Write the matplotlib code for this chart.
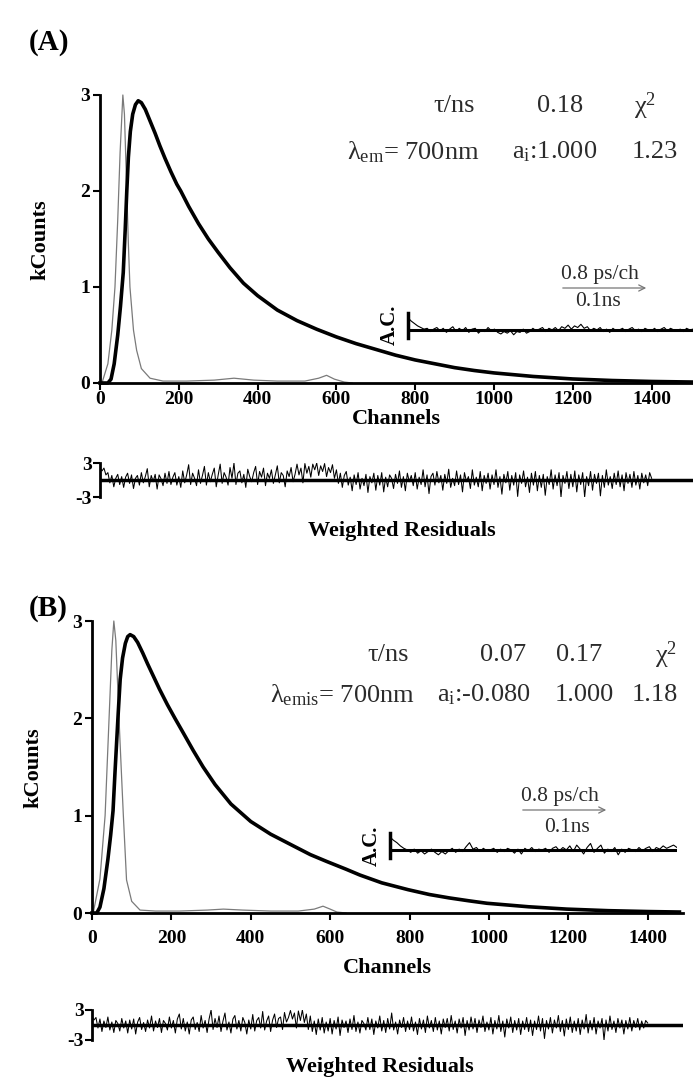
# 蛍光減衰曲線 (A), (B) の再現

import numpy as np
import matplotlib
matplotlib.use("Agg")
import matplotlib.pyplot as plt
from matplotlib.patches import FancyArrowPatch

plt.rcParams["font.family"] = ["Liberation Serif", "DejaVu Serif"]
plt.rcParams["mathtext.fontset"] = "custom"
plt.rcParams["mathtext.rm"] = "Liberation Serif"
plt.rcParams["mathtext.it"] = "Liberation Serif:italic"

W, H = 693, 1078
FILE_NAME = "out.png"
TXT = "#2b2b2b"
IRF_COLOR = "#7a7a7a"
RES_STEP = 5            # 残差の点間隔 (チャンネル)

# ---- (A) データ ----
irfA_ch = [0, 5, 20, 30, 38, 45, 51, 58, 62, 68, 72, 76, 85, 93, 105, 127, 160, 220, 290, 340, 390, 450, 520, 555, 575, 595, 620, 640]
irfA = [0, 0.0, 0.2, 0.55, 1.0, 1.7, 2.4, 3.0, 2.8, 2.0, 1.45, 1.0, 0.55, 0.34, 0.15, 0.05, 0.02, 0.02, 0.03, 0.05, 0.03, 0.02, 0.02, 0.05, 0.08, 0.04, 0.01, 0.0]
fitA_ch = [0, 20, 28, 36, 45, 52, 59, 64, 68, 72, 77, 83, 90, 97, 105, 115, 128, 140, 152, 165, 180, 195, 205, 225, 250, 275,
           300, 330, 364, 400, 450, 500, 550, 600, 650, 700, 750, 800, 850, 900, 950, 1000, 1100, 1200, 1300, 1400, 1505]
fitA = [0, 0, 0.04, 0.2, 0.5, 0.8, 1.15, 1.6, 2.0, 2.35, 2.62, 2.8, 2.9, 2.94, 2.92, 2.85, 2.72, 2.6, 2.47, 2.34, 2.2, 2.07, 2.0, 1.84, 1.66, 1.5,
        1.36, 1.2, 1.04, 0.91, 0.76, 0.65, 0.56, 0.48, 0.41, 0.35, 0.29, 0.24, 0.2, 0.16, 0.13, 0.105, 0.068, 0.042, 0.026, 0.016, 0.01]
resA = [2.2, 1.6, 2.1, 0.9, 1.3, -0.5, 0.8, -1.2, 0.3, 1.0, -0.8, 0.6, -1.3, 0.5, 1.2, -0.6, 0.9, -1.5, 0.3, 0.8,
        -0.9, 1.3, -0.5, 0.6, 2.0, -1.2, 0.8, -0.3, 1.0, -1.6, 0.9, 0.2, -1.0, 1.2, -0.6, 1.5, -0.8, 0.5, 1.3, -0.9,
        0.6, -1.3, 1.6, -0.5, 0.9, 2.7, -0.8, 1.2, 0.3, -1.0, 1.8, -0.6, 0.8, 2.4, -0.9, 1.3, -0.3, 1.0, 2.1, -1.2,
        0.9, 2.8, -0.6, 1.3, 0.5, -0.9, 2.2, 0.3, 3.0, -0.8, 1.2, 1.6, -0.5, 1.0, -1.3, 1.9, 0.6, -0.3, 1.3, 2.4,
        -0.8, 1.5, 0.5, 2.1, -1.0, 1.2, 0.3, 1.8, -0.6, 0.9, 2.5, -0.5, 1.3, 0.8, -1.2, 1.6, 0.6, 2.2, -0.3, 1.0,
        2.8, 0.9, 2.1, -0.5, 2.9, 1.2, 2.4, 0.5, 2.8, 1.8, 3.0, 0.8, 2.5, 1.5, 2.9, 0.6, 2.2, 1.3, 2.7, 0.3,
        1.8, -0.6, 1.2, -1.3, 0.8, 1.5, -0.9, 0.5, -1.9, 0.9, -0.8, 1.3, -1.6, 0.3, -1.0, 1.0, -2.2, 0.6, -0.5, 1.2,
        -1.8, 0.8, -0.9, 1.3, -2.1, 0.5, -1.2, 0.9, 0.3, -1.5, 1.0, -0.6, 1.6, -1.3, 0.6, -1.9, 1.2, -0.3, 0.8, -1.0,
        1.3, -1.6, 0.5, -0.8, 1.8, -1.2, 0.9, -2.4, 0.6, 1.2, -0.9, 1.5, -0.5, 0.8, -1.8, 1.0, -0.6, 1.9, -1.3, 0.3,
        -1.0, 1.6, -0.8, 0.9, -2.1, 1.3, -0.3, 0.6, -1.5, 1.8, -0.9, 0.5, -1.2, 1.5, -1.9, 0.8, -0.6, 1.2, -1.6, 0.9,
        -0.8, 1.8, -1.3, 0.6, -2.5, 1.0, -0.5, 1.5, -1.8, 0.8, -0.9, 1.3, -2.9, 0.9, -0.6, 1.6, -1.2, 0.5, -2.2, 1.2,
        -0.9, 1.5, -1.9, 0.8, -1.3, 1.0, -2.7, 0.6, -0.8, 1.8, -1.6, 0.9, -1.0, 1.3, -3.0, 0.8, -0.6, 1.5, -1.5, 1.0,
        -1.2, 1.6, -2.1, 0.9, -0.8, 1.3, -3.0, 0.6, -1.0, 1.5, -1.8, 1.0, -0.6, 1.2, -2.8, 0.8, -1.3, 1.8, -0.9, 0.6,
        -1.5, 1.2, -0.8, 1.6, -1.2, 0.9, -1.9, 1.3, -0.6, 1.0, -1.3, 1.5, -0.9, 0.8, -1.6, 1.2, -0.5, 0.9, -1.0, 1.3,
        0.3]
acA = [1.5, 1.1, 0.8, 0.5, 0.3, 0.1, 0.2, -0.2, 0.1, 0.3, -0.1, 0.2, -0.3, 0.1, 0.4,
       -0.2, 0.2, -0.1, 0.3, -0.3, 0.1, 0.2, -0.4, 0.0, -0.2, 0.3, -0.1, 0.1, -0.3, -0.5,
       -0.2, -0.4, -0.1, -0.6, -0.2, -0.3, 0.1, -0.4, -0.2, 0.2, -0.1, 0.1, 0.3, -0.2, 0.2,
       0.0, 0.3, -0.1, 0.4, 0.2, 0.6, 0.1, 0.5, 0.3, 0.7, 0.2, 0.4, -0.1, 0.2, 0.0,
       0.3, -0.2, 0.1, -0.3, 0.2, -0.1, 0.0, 0.2, -0.2, 0.1, 0.3, -0.1, 0.1, -0.2, 0.2,
       0.0, -0.1, 0.2, -0.2, 0.1, 0.3, -0.1, 0.2, 0.0, -0.1, 0.1, -0.2, 0.2, 0.0, 0.1]

# ---- (B) データ ----
irfB_ch = [0, 3, 20, 33, 43, 50, 55, 60, 68, 74, 79, 87, 100, 121, 160, 220, 290, 331, 380, 450, 520, 560, 582, 600, 617, 640]
irfB = [0, 0.0, 0.35, 1.0, 2.0, 2.7, 3.0, 2.8, 2.0, 1.45, 1.0, 0.34, 0.12, 0.03, 0.02, 0.02, 0.03, 0.04, 0.03, 0.02, 0.02, 0.04, 0.07, 0.04, 0.01, 0.0]
fitB_ch = [0, 12, 20, 30, 40, 47, 53, 58, 62, 66, 71, 77, 84, 90, 96, 105, 115, 128, 140, 155, 170, 190, 209, 230, 255, 280,
           310, 350, 400, 450, 507, 550, 591, 640, 675, 730, 796, 850, 900, 950, 995, 1100, 1196, 1300, 1400, 1480]
fitB = [0, 0, 0.06, 0.25, 0.55, 0.8, 1.05, 1.45, 1.75, 2.05, 2.4, 2.62, 2.77, 2.84, 2.86, 2.84, 2.78, 2.67, 2.56, 2.43, 2.3, 2.14, 2.0, 1.85, 1.67, 1.5,
        1.32, 1.12, 0.94, 0.81, 0.69, 0.6, 0.53, 0.45, 0.39, 0.31, 0.24, 0.19, 0.155, 0.125, 0.10, 0.064, 0.04, 0.024, 0.015, 0.01]
resB = [1.8, 1.0, 1.5, -0.6, 1.2, -1.3, 0.8, -0.5, 1.6, -1.0, 0.6, -1.5, 0.9, 0.3, -1.2, 1.3, -0.6, 0.8, -1.6, 1.0,
        -0.8, 1.2, -1.8, 0.6, 1.5, -0.9, 0.5, -1.3, 1.0, -0.6, 1.8, -1.2, 0.8, -0.5, 1.3, -1.5, 0.9, 0.3, -1.0, 1.6,
        -0.6, 0.9, -1.6, 1.2, 2.2, -0.8, 1.3, -1.2, 0.6, -1.8, 1.0, 1.6, -0.9, 0.5, -1.3, 1.9, -0.6, 0.9, -1.5, 1.2,
        3.0, -0.9, 1.3, -0.5, 1.8, -1.3, 0.8, 2.4, -1.0, 0.6, -1.6, 1.2, 1.9, -0.8, 0.9, -1.2, 1.5, 0.5, -1.8, 1.0,
        -0.8, 2.1, -1.2, 0.9, 1.5, -0.6, 2.7, -1.0, 0.8, 1.8, -1.3, 1.0, 2.2, -0.5, 1.3, 1.6, -0.9, 2.5, 0.6, 1.5,
        2.9, 1.2, 2.4, -0.6, 2.8, 0.9, 3.0, 0.5, 2.2, -0.9, 1.8, -1.3, 0.8, -1.9, 1.2, -1.0, 1.5, -1.6, 0.6, -1.2,
        1.3, -1.8, 0.9, -0.8, 1.6, -2.1, 1.0, -0.5, 0.8, -1.5, 1.2, -0.9, 1.9, -1.3, 0.6, -1.6, 0.9, 0.3, -1.0, 1.5,
        -0.9, 1.2, -1.9, 0.8, -0.6, 1.8, -1.2, 0.9, -1.5, 1.3, -0.8, 2.4, -1.0, 0.6, -1.8, 1.0, -0.5, 1.5, -1.3, 0.8,
        -0.9, 1.6, -1.2, 0.6, -1.9, 1.3, -0.8, 1.0, -1.5, 1.8, -0.6, 0.9, -1.3, 1.5, -1.0, 0.8, -1.8, 1.2, -0.5, 1.3,
        -1.2, 1.9, -0.9, 0.8, -1.6, 1.2, -0.6, 1.5, -2.1, 0.9, -1.0, 1.6, -0.8, 1.3, -1.5, 1.0, -0.5, 1.8, -1.3, 0.6,
        -1.0, 1.5, -1.8, 0.9, -0.8, 1.9, -1.3, 0.8, -2.4, 1.2, -0.6, 1.6, -1.5, 0.9, -1.0, 1.3, -1.9, 0.8, -0.9, 1.5,
        -1.3, 1.0, -2.1, 0.8, -0.9, 1.8, -1.2, 1.3, -2.7, 0.9, -0.8, 1.5, -1.6, 1.0, -0.6, 1.9, -1.3, 0.9, -2.2, 1.2,
        -0.9, 1.6, -1.5, 0.8, -1.2, 1.3, -1.9, 1.0, -0.8, 2.1, -1.6, 0.9, -1.0, 1.5, -1.8, 0.8, -0.6, 1.3, -3.0, 1.0,
        -1.2, 1.8, -0.9, 0.8, -1.5, 1.3, -0.6, 1.0, -1.8, 0.9, -0.8, 1.5, -1.2, 0.9, -0.5, 1.3, -1.0, 0.8, -0.6, 0.9,
        0.4]
acB = [1.6, 1.2, 0.9, 0.5, 0.2, 0.0, -0.3, 0.1, -0.4, -0.1, -0.5, -0.2, 0.1, -0.3, -0.6,
       -0.2, -0.5, -0.1, 0.2, -0.3, 0.1, -0.2, 0.4, 0.9, 0.1, 0.3, -0.2, 0.2, -0.1, 0.0,
       0.2, -0.3, 0.1, -0.2, 0.2, 0.0, -0.4, 0.1, -0.5, 0.2, -0.1, 0.3, -0.2, 0.1, 0.0,
       0.2, -0.3, 0.2, 0.4, -0.1, 0.3, 0.0, 0.5, -0.2, 0.6, 0.1, -0.5, 0.3, 0.8, -0.3,
       0.2, 0.6, -0.4, 0.1, -0.2, 0.3, -0.6, 0.1, -0.3, 0.2, 0.0, -0.2, 0.3, -0.1, 0.2,
       0.4, -0.2, 0.3, 0.1, 0.5, 0.2, 0.4, 0.6, 0.3]

X_TICKS = [0, 200, 400, 600, 800, 1000, 1200, 1400]
Y_TICKS = [0, 1, 2, 3]
LABEL_FS = 16
TICK_FS = 14


def px_axes(fig, l, t, r, b):
    """ピクセル座標で軸を作る"""
    return fig.add_axes([l / W, 1 - b / H, (r - l) / W, (b - t) / H])


def fig_text(fig, x, y, s, **kw):
    fig.text(x / W, 1 - y / H, s, **kw)


def main_panel(fig, box, xmax, irf_ch, irf, fit_ch, fit, pad, labelpad):
    ax = px_axes(fig, *box)
    ax.plot(irf_ch, irf, color=IRF_COLOR, lw=0.9, clip_on=False)
    ax.plot(fit_ch, fit, color="black", lw=2.6, clip_on=False, solid_joinstyle="round")
    ax.set_xlim(0, xmax)
    ax.set_ylim(0, 3)
    for s in ["top", "right"]:
        ax.spines[s].set_visible(False)
    ax.spines["left"].set_linewidth(2)
    ax.spines["bottom"].set_linewidth(2)
    ax.spines["left"].set_bounds(0, 3)
    ax.set_xticks(X_TICKS)
    ax.set_yticks(Y_TICKS)
    ax.tick_params(direction="out", length=5, width=1.5, labelsize=TICK_FS, pad=2)
    ax.tick_params(axis="x", pad=pad)
    for lab in ax.get_xticklabels() + ax.get_yticklabels():
        lab.set_fontweight("bold")
    ax.set_xlabel("Channels", fontsize=LABEL_FS, fontweight="bold", labelpad=labelpad)
    return ax


def resid_panel(fig, box, xmax, res):
    ax = px_axes(fig, *box)
    ch = np.arange(len(res)) * RES_STEP
    ax.axhline(0, color="black", lw=2.5)
    ax.plot(ch, res, color="black", lw=0.75)
    ax.set_xlim(0, xmax)
    ax.set_ylim(-3, 3)
    for s in ["top", "right", "bottom"]:
        ax.spines[s].set_visible(False)
    ax.spines["left"].set_linewidth(2)
    ax.set_xticks([])
    ax.set_yticks([-3, 3])
    ax.set_yticklabels(["-3", "3"])
    ax.tick_params(direction="out", length=5, width=1.5, labelsize=TICK_FS, pad=1)
    for lab in ax.get_yticklabels():
        lab.set_fontweight("bold")
    return ax


def ac_panel(fig, box, ac):
    ax = px_axes(fig, *box)
    ax.axhline(0, color="black", lw=2.2)
    ax.plot(np.arange(len(ac)), ac, color="black", lw=0.8)
    ax.set_xlim(0, len(ac) - 1)
    ax.set_ylim(-1, 2.1)
    for s in ["top", "right", "bottom"]:
        ax.spines[s].set_visible(False)
    ax.spines["left"].set_linewidth(2.5)
    ax.set_xticks([])
    ax.set_yticks([])
    return ax


def scale_arrow(fig, x0, x1, y):
    fig.add_artist(FancyArrowPatch(
        (x0 / W, 1 - y / H), (x1 / W, 1 - y / H), transform=fig.transFigure,
        arrowstyle="->", mutation_scale=11, color="#777777", lw=0.9))


def main():
    fig = plt.figure(figsize=(W / 100, H / 100), dpi=100)
    fs = 19
    kw = dict(fontsize=fs, color=TXT, va="center")

    # ---- (A) ----
    fig_text(fig, 29, 43, "(A)", fontsize=21, fontweight="bold", va="center")
    main_panel(fig, (100, 95, 693, 383), 1505, irfA_ch, irfA, fitA_ch, fitA, 0.5, 1)
    fig_text(fig, 40, 240, "kCounts", fontsize=LABEL_FS, fontweight="bold",
             rotation=90, ha="center", va="center")
    resid_panel(fig, (100, 463, 693, 497), 1505, resA)
    fig_text(fig, 402, 531, "Weighted Residuals", fontsize=LABEL_FS, fontweight="bold",
             ha="center", va="center")
    ac_panel(fig, (408, 313, 693, 338), acA)
    fig_text(fig, 390, 325, "A.C.", fontsize=15, fontweight="bold", rotation=90,
             ha="center", va="center")
    fig_text(fig, 600, 274, "0.8 ps/ch", fontsize=15.5, color=TXT, ha="center", va="center")
    fig_text(fig, 598, 301, "0.1ns", fontsize=15.5, color=TXT, ha="center", va="center")
    scale_arrow(fig, 560, 649, 288)

    fig_text(fig, 454, 106, "τ/ns", ha="center", **kw)
    fig_text(fig, 560, 106, "0.18", ha="center", **kw)
    fig_text(fig, 645, 106, r"χ$^2$", ha="center", **kw)
    fig_text(fig, 347, 152, r"λ$_{\mathrm{em}}$= 700nm", **kw)
    fig_text(fig, 512, 152, r"a$_{\mathrm{i}}$:1.000", **kw)
    fig_text(fig, 632, 152, "1.23", **kw)

    # ---- (B) ----
    fig_text(fig, 29, 608, "(B)", fontsize=21, fontweight="bold", va="center")
    main_panel(fig, (92, 621, 683, 913), 1489, irfB_ch, irfB, fitB_ch, fitB, 7, 8)
    fig_text(fig, 33, 768, "kCounts", fontsize=LABEL_FS, fontweight="bold",
             rotation=90, ha="center", va="center")
    resid_panel(fig, (92, 1010, 683, 1040), 1489, resB)
    fig_text(fig, 380, 1067, "Weighted Residuals", fontsize=LABEL_FS, fontweight="bold",
             ha="center", va="center")
    ac_panel(fig, (390, 833, 677, 858), acB)
    fig_text(fig, 372, 846, "A.C.", fontsize=15, fontweight="bold", rotation=90,
             ha="center", va="center")
    fig_text(fig, 560, 797, "0.8 ps/ch", fontsize=15.5, color=TXT, ha="center", va="center")
    fig_text(fig, 567, 828, "0.1ns", fontsize=15.5, color=TXT, ha="center", va="center")
    scale_arrow(fig, 520, 609, 810)

    fig_text(fig, 388, 655, "τ/ns", ha="center", **kw)
    fig_text(fig, 503, 655, "0.07", ha="center", **kw)
    fig_text(fig, 579, 655, "0.17", ha="center", **kw)
    fig_text(fig, 666, 655, r"χ$^2$", ha="center", **kw)
    fig_text(fig, 270, 695, r"λ$_{\mathrm{emis}}$= 700nm", **kw)
    fig_text(fig, 437, 695, r"a$_{\mathrm{i}}$:-0.080", **kw)
    fig_text(fig, 555, 695, "1.000", **kw)
    fig_text(fig, 632, 695, "1.18", **kw)

    plt.savefig(FILE_NAME, dpi=100)


if __name__ == "__main__":
    main()
